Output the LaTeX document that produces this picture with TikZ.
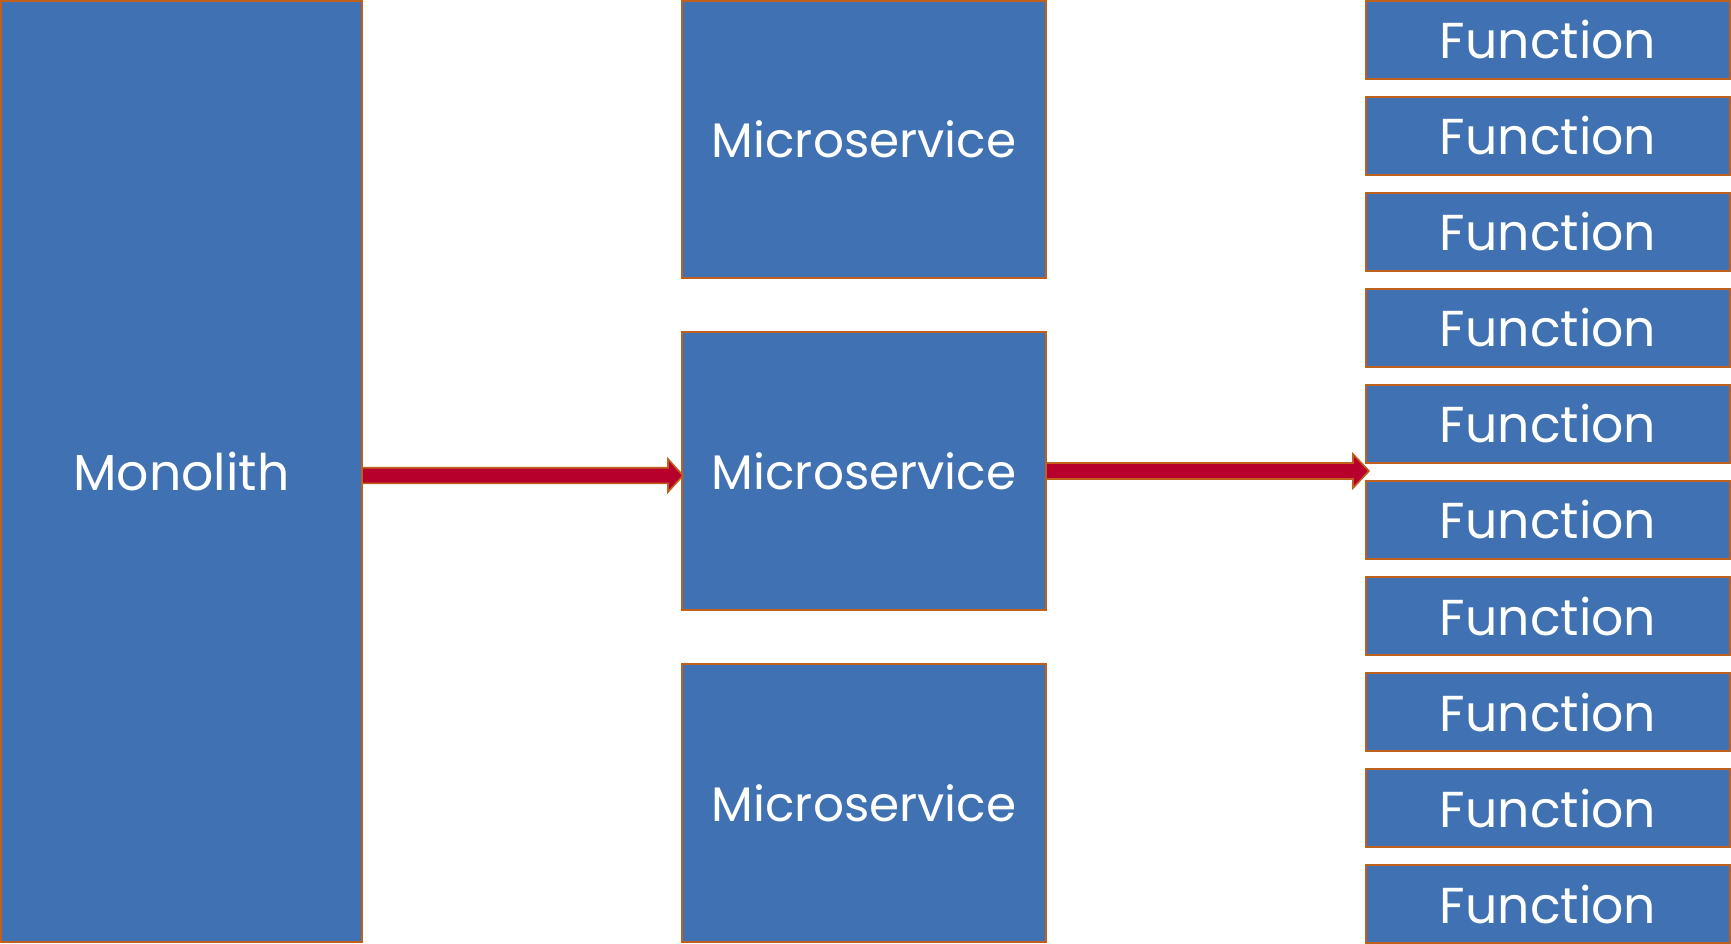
\documentclass[tikz,border=0pt]{standalone}
\usepackage{fontspec}
\setmainfont{Poppins}
\usetikzlibrary{calc}
\definecolor{boxblue}{RGB}{64,113,178}
\definecolor{boxedge}{RGB}{192,96,28}
\definecolor{arrred}{RGB}{184,0,45}
\begin{document}
\begin{tikzpicture}[x=1pt,y=-1pt,
  blk/.style={draw=boxedge,fill=boxblue,line width=2.6pt,anchor=north west,
    inner sep=0pt,outer sep=0pt,text=white,font=\fontsize{50.5}{52}\selectfont},
  msblk/.style={blk,font=\fontsize{48.5}{52}\selectfont},
  fatarr/.style={draw=boxedge,fill=arrred,line width=1.6pt,line join=miter}]
\useasboundingbox (0,0) rectangle (1731,943);
\node[blk,minimum width=361pt,minimum height=941pt] (mono) at (1,1) {Monolith};
\node[msblk,minimum width=364pt,minimum height=277pt] (ms1) at (682,1) {Microservice};
\node[msblk,minimum width=364pt,minimum height=278pt] (ms2) at (682,332) {Microservice};
\node[msblk,minimum width=364pt,minimum height=278pt] (ms3) at (682,664) {Microservice};
\foreach \i in {1,...,10}{
  \node[blk,minimum width=364pt,minimum height=78pt] (f\i) at (1366,{1+96*(\i-1)}) {Function};
}
% arrow 1
\coordinate (S1) at ($(mono.east)+(0,4)$);
\coordinate (T1) at ($(ms2.west)+(1,4.5)$);
\draw[fatarr] ($(S1)+(0,-7.8)$) -- ($(T1 |- S1)+(-15,-7.8)$) -- ($(T1 |- S1)+(-15,-16.5)$)
  -- (T1 |- S1) -- ($(T1 |- S1)+(-15,16.5)$) -- ($(T1 |- S1)+(-15,7.8)$) -- ($(S1)+(0,7.8)$) -- cycle;
% arrow 2
\coordinate (S2) at (ms2.east);
\coordinate (T2) at ($($(f5.south west)!0.5!(f6.north west)$)+(3,0)$);
\draw[fatarr] ($(S2)+(0,-8)$) -- ($(T2 |- S2)+(-16,-8)$) -- ($(T2 |- S2)+(-16,-17)$)
  -- (T2 |- S2) -- ($(T2 |- S2)+(-16,17)$) -- ($(T2 |- S2)+(-16,8)$) -- ($(S2)+(0,8)$) -- cycle;
\end{tikzpicture}
\end{document}
